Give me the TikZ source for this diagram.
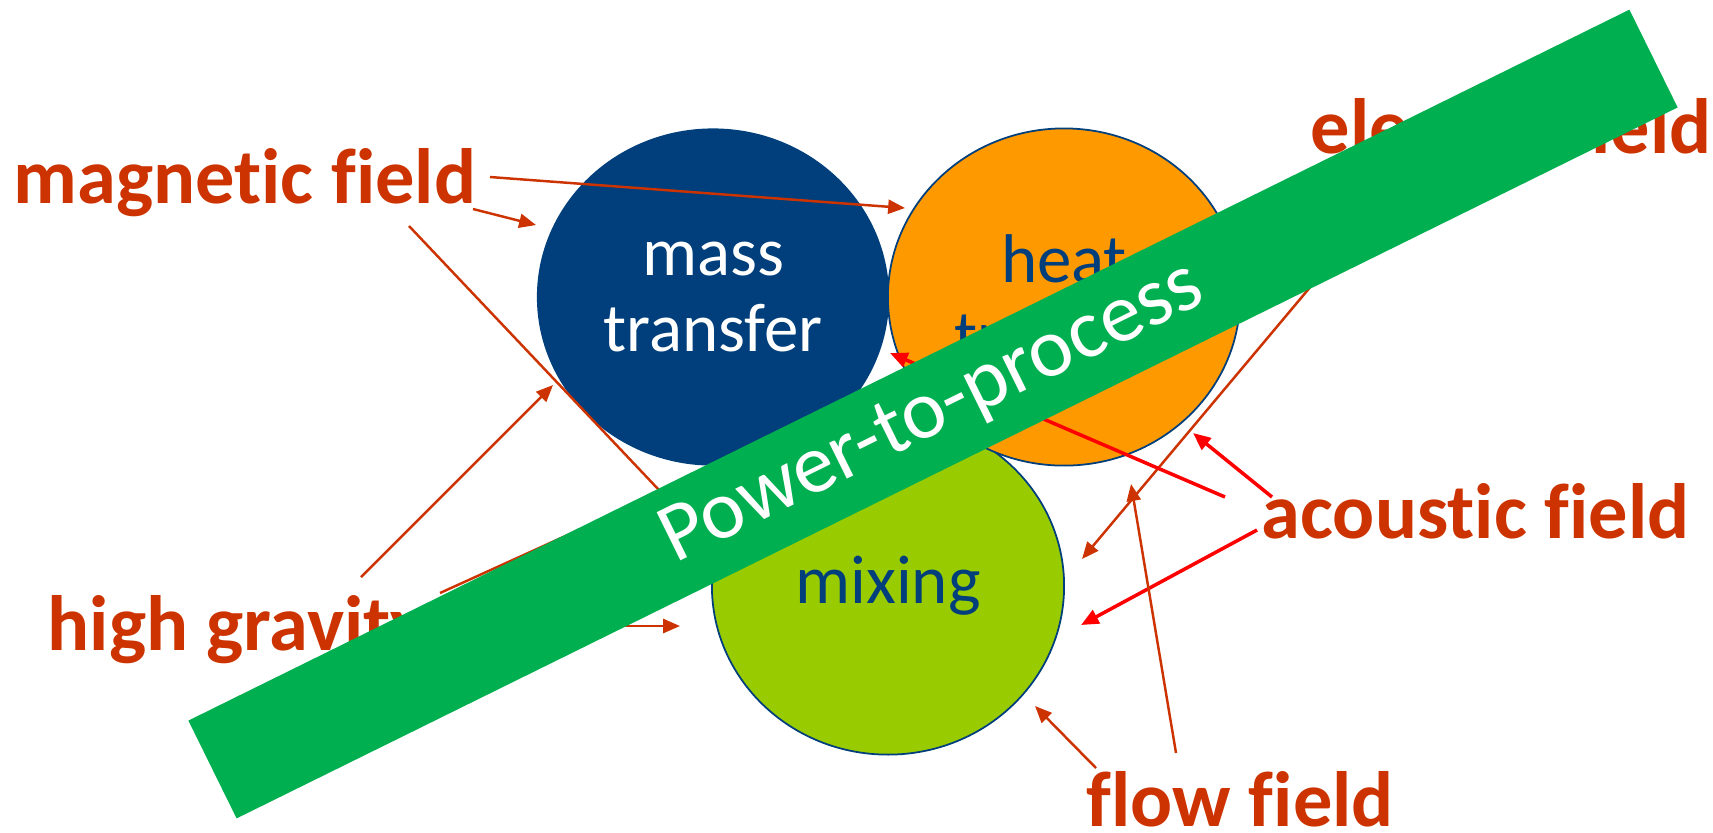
\documentclass[tikz,border=0pt]{standalone}
\usepackage{fontspec}
\setmainfont[Ligatures={NoCommon,NoContextual}]{Carlito}
\usepackage{tikz}
\usetikzlibrary{shapes,arrows.meta}

\definecolor{massblue}{HTML}{003F7B}
\definecolor{heatorange}{HTML}{FF9900}
\definecolor{mixgreen}{HTML}{99CC00}
\definecolor{bandgreen}{HTML}{00AF50}
\definecolor{fieldred}{HTML}{CC3300}
\definecolor{soundred}{HTML}{FF0000}

\begin{document}
\begin{tikzpicture}[x=0.01cm,y=-0.01cm,
  blob/.style={ellipse,minimum width=3.52cm,minimum height=3.37cm,inner sep=0pt,align=center,font=\fontsize{19.6}{21.6}\selectfont},
  fieldlabel/.style={anchor=base west,inner sep=0pt,text=fieldred,font=\fontsize{22.3}{26}\selectfont\bfseries},
  fieldarrow/.style={draw=fieldred,line width=0.7pt,-{Triangle[length=4.8pt,width=4pt]}},
  soundarrow/.style={draw=soundred,line width=1pt,-{Triangle[length=5pt,width=4.2pt]}}]
  \useasboundingbox (0,0) rectangle (1713,832);

  \node[blob,fill=mixgreen,draw=massblue,line width=0.5pt,text=massblue](mixing) at (888,586){mixing};
  \node[blob,fill=massblue,text=white](mass) at (713,297){mass\\transfer};
  \node[blob,fill=heatorange,draw=massblue,line width=0.5pt,text=massblue](heat) at (1064,297){heat\\transfer};

  \node[fieldlabel](magnetic) at (13,203){magnetic field};
  \node[fieldlabel](electric) at (1310,153){electric field};
  \node[fieldlabel](acoustic) at (1261,538){acoustic field};
  \node[fieldlabel](gravity) at (47,650){high gravity};
  \node[fieldlabel](flow) at (1086,826){flow field};

  % where the arrows start
  \coordinate (magA) at (490,177);
  \coordinate (magB) at (473,209);
  \coordinate (magC) at (409,226);
  \coordinate (gravA) at (361,577);
  \coordinate (gravB) at (440,593);
  \coordinate (gravC) at (430,626);
  \coordinate (elecA) at (1400,180);
  \coordinate (acouA) at (1225,497);
  \coordinate (acouB) at (1272,497);
  \coordinate (acouC) at (1257,530);
  \coordinate (flowA) at (1096,768);
  \coordinate (flowB) at (1176,753);
  % where they end
  \coordinate (heatW) at (905,208);
  \coordinate (massW) at (536,225);
  \coordinate (mixNW) at (712,546);
  \coordinate (massSW) at (553,385);
  \coordinate (heatSW) at (900,384);
  \coordinate (mixW) at (680,626);
  \coordinate (mixNE) at (1082,559);
  \coordinate (gap) at (890,353);
  \coordinate (heatSE) at (1193,433);
  \coordinate (mixE) at (1081,625);
  \coordinate (mixSE) at (1035,706);
  \coordinate (heatS) at (1131,484);

  \draw[fieldarrow] (magA) -- (heatW);
  \draw[fieldarrow] (magB) -- (massW);
  \draw[fieldarrow] (magC) -- (mixNW);
  \draw[fieldarrow] (gravA) -- (massSW);
  \draw[fieldarrow] (gravB) -- (heatSW);
  \draw[fieldarrow] (gravC) -- (mixW);
  \draw[fieldarrow] (elecA) -- (mixNE);
  \draw[soundarrow] (acouA) -- (gap);
  \draw[soundarrow] (acouB) -- (heatSE);
  \draw[soundarrow] (acouC) -- (mixE);
  \draw[fieldarrow] (flowA) -- (mixSE);
  \draw[fieldarrow] (flowB) -- (heatS);

  \node[fill=bandgreen,minimum width=16.06cm,minimum height=1.09cm,rotate=26.26,text=white,font=\fontsize{23.8}{28}\selectfont](band) at (933,414){Power-to-process};
\end{tikzpicture}
\end{document}
